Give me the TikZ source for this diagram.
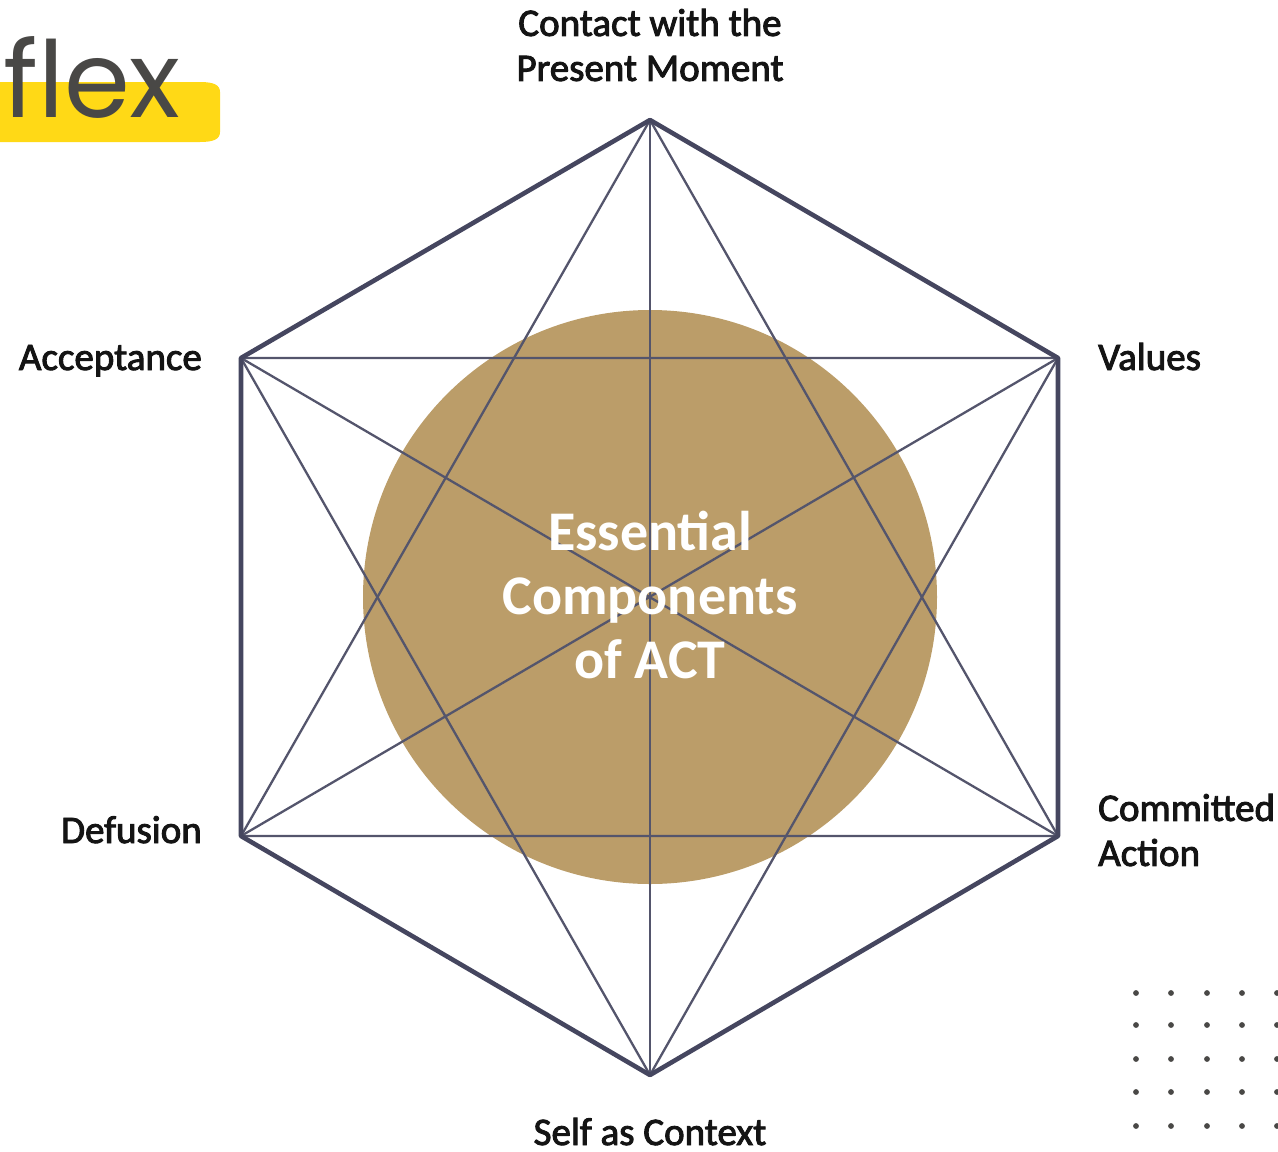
\documentclass[tikz,border=0pt]{standalone}
\usepackage{fontspec}
\setmainfont{Carlito}
\newfontfamily\flexfont{Poppins}
\newfontfamily\labfont[FakeBold=2.4]{Carlito}
\definecolor{hexline}{HTML}{45465F}
\definecolor{gold}{HTML}{BB9D69}
\definecolor{yellowbar}{HTML}{FFD916}
\definecolor{darkgrey}{HTML}{494846}
\tikzset{
  outerline/.style={draw=hexline,line width=4.6pt,line join=round},
  innerline/.style={draw=hexline!92!white,line width=2.3pt},
  lab/.style={font=\fontsize{39}{45}\selectfont\labfont,text=black!92,inner sep=0pt,align=left},
  dotmark/.style={circle,fill=darkgrey,draw=none,minimum size=5.8pt,inner sep=0pt}
}
\begin{document}
\begin{tikzpicture}[x=1pt,y=-1pt]
\useasboundingbox (0,0) rectangle (1278,1152);
\clip (0,0) rectangle (1278,1152);
\fill[yellowbar] (-30,82) -- (200,82) .. controls (214,82) and (220,85) .. (220,92) -- (220,132) .. controls (220,139) and (214,142) .. (200,142) -- (-30,142) -- cycle;
\node[anchor=base west,inner sep=0pt,text=darkgrey,font=\fontsize{106}{106}\selectfont\flexfont] (flex) at (3,117) {flex};
\node[circle,fill=gold,draw=none,minimum size=574pt,inner sep=0pt] (hub) at (650,597) {};
\coordinate (T) at (650,120);
\coordinate (UR) at (1058,358);
\coordinate (LR) at (1058,836);
\coordinate (B) at (650,1075);
\coordinate (LL) at (241,836);
\coordinate (UL) at (241,358);
\draw[innerline] (T) -- (B);
\draw[innerline] (UL) -- (LR);
\draw[innerline] (UR) -- (LL);
\draw[innerline] (T) -- (LL) -- (LR) -- cycle;
\draw[innerline] (B) -- (UL) -- (UR) -- cycle;
\draw[outerline] (T) -- (UR) -- (LR) -- (B) -- (LL) -- (UL) -- cycle;
\node[font=\fontsize{56}{64}\selectfont\bfseries,text=white,align=center,inner sep=0pt] (title) at (650,595) {Essential\\Components\\of ACT};
\node[lab,align=center,anchor=center] (contact) at (650,45) {Contact with the\\Present Moment};
\node[lab,anchor=base west] (values) at (1098,370) {Values};
\node[lab,anchor=west] (committed) at (1098,830) {Committed\\Action};
\node[lab,anchor=base] (self) at (650,1145) {Self as Context};
\node[lab,anchor=base east] (defusion) at (202,843) {Defusion};
\node[lab,anchor=base east] (acceptance) at (202,370) {Acceptance};
\foreach \dx in {1136,1171,1207,1242,1277}
  \foreach \dy in {993,1025,1059,1092,1126}
    \node[dotmark] at (\dx,\dy) {};
\end{tikzpicture}
\end{document}
